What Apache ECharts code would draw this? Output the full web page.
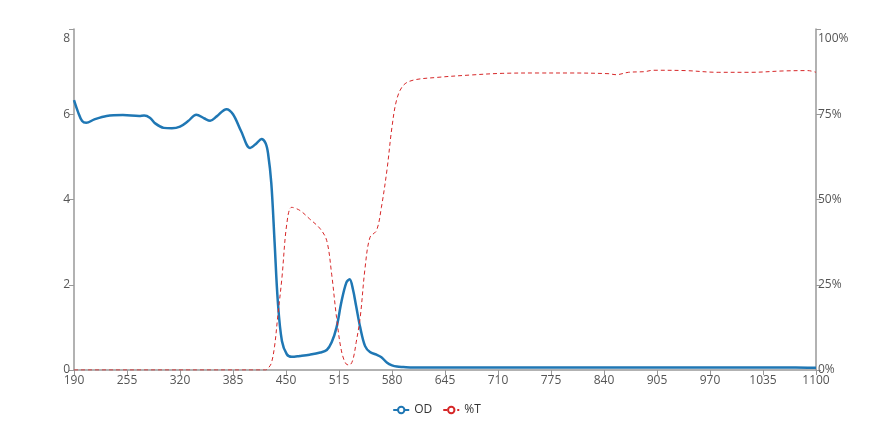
<!DOCTYPE html>
<html>
<head>
<meta charset="utf-8">
<script src="https://cdn.jsdelivr.net/npm/echarts@6/dist/echarts.min.js"></script>
<style>
html,body{margin:0;padding:0;background:#fff;}
#chart{width:873px;height:421px;}
</style>
</head>
<body>
<div id="chart"></div>
<script>
// Wavelength (nm)
const wavelength = [190,195,200,205,215,230,250,270,276,283,290,300,310,320,330,340,350,357,365,377,385,395,406,414,420,425,428,432,436,440,445,451,457,467,479,492,500,506,512,518,524,528,532,536,541,547,553,561,567,574,580,586,594,606,635,676,716,760,798,845,855,870,890,900,940,980,1020,1060,1090,1100];
// Optical density
const odValues = [6.33,6.05,5.84,5.80,5.88,5.96,5.98,5.96,5.97,5.92,5.78,5.68,5.67,5.71,5.84,5.99,5.90,5.85,5.95,6.12,6.0,5.6,5.21,5.32,5.42,5.32,5.08,4.38,3.0,1.6,0.68,0.37,0.31,0.33,0.36,0.41,0.47,0.65,1.0,1.6,2.05,2.13,1.9,1.5,1.0,0.56,0.42,0.36,0.30,0.17,0.11,0.08,0.07,0.06,0.06,0.06,0.06,0.06,0.06,0.06,0.06,0.06,0.06,0.06,0.06,0.06,0.06,0.06,0.055,0.055];
// Transmittance (%)
const transValues = [0,0,0,0,0,0,0,0,0,0,0,0,0,0,0,0,0,0,0,0,0,0,0,0,0,0,0.5,2,7,16,27,42.9,47.7,46.8,44.3,41.4,37.9,28.1,15.4,5.6,1.7,1.5,3.0,8,15.4,30,38.9,40.9,47.7,59,71.3,79.5,83.5,85,85.8,86.5,87,87.1,87.1,86.9,86.6,87.3,87.5,87.9,87.8,87.3,87.3,87.7,87.8,87.3];
const xTicks = {min:190, max:1100, interval:65};
const odTicks = {min:0, max:8, interval:2};
const tTicks = {min:0, max:100, interval:25};

const odData = wavelength.map((w,i)=>[w, odValues[i]]);
const tData = wavelength.map((w,i)=>[w, transValues[i]]);

const chart = echarts.init(document.getElementById('chart'));
const labelStyle = {color:'#555', fontSize:12, fontFamily:'Open Sans, sans-serif'};
chart.setOption({
  animation:false,
  backgroundColor:'#fff',
  grid:{left:74, right:57, top:29, bottom:51, containLabel:false},
  legend:{
    bottom:0, left:'center', itemGap:10, itemWidth:16, itemHeight:8,
    textStyle:{color:'#333', fontSize:12, fontFamily:'Open Sans, sans-serif'},
    data:['OD','%T']
  },
  xAxis:{
    type:'value', min:xTicks.min, max:xTicks.max, interval:xTicks.interval,
    axisLine:{lineStyle:{color:'#999', width:1.5}},
    axisTick:{show:true, length:5, lineStyle:{color:'#999'}},
    axisLabel:Object.assign({margin:5, formatter:v=>String(v)}, labelStyle),
    splitLine:{show:false}
  },
  yAxis:[
    {
      type:'value', min:odTicks.min, max:odTicks.max, interval:odTicks.interval,
      axisLine:{show:true, lineStyle:{color:'#999', width:1.5}},
      axisTick:{show:true, length:5, lineStyle:{color:'#999'}},
      axisLabel:Object.assign({margin:4, formatter:v=> v===8 ? '{t|8}' : String(v),
        rich:{t:{padding:[20,0,0,0], color:'#555', fontSize:12, fontFamily:'Open Sans, sans-serif'}}}, labelStyle),
      splitLine:{show:false}
    },
    {
      type:'value', min:tTicks.min, max:tTicks.max, interval:tTicks.interval,
      position:'right',
      axisLine:{show:true, lineStyle:{color:'#999', width:1.5}},
      axisTick:{show:true, length:5, lineStyle:{color:'#999'}},
      axisLabel:Object.assign({margin:2, formatter:v=> v===100 ? '{t|100%}' : v+'%',
        rich:{t:{padding:[20,0,0,0], color:'#555', fontSize:12, fontFamily:'Open Sans, sans-serif'}}}, labelStyle),
      splitLine:{show:false}
    }
  ],
  series:[
    {
      name:'OD', type:'line', yAxisIndex:0, data:odData,
      smooth:0.35, showSymbol:false, symbol:'emptyCircle',
      itemStyle:{color:'#1f77b4'},
      lineStyle:{color:'#1f77b4', width:2.5}
    },
    {
      name:'%T', type:'line', yAxisIndex:1, data:tData,
      smooth:0.35, showSymbol:false, symbol:'emptyCircle',
      itemStyle:{color:'#d62728'},
      lineStyle:{color:'#d62728', width:1, type:[4,3]}
    }
  ]
});
</script>
</body>
</html>
